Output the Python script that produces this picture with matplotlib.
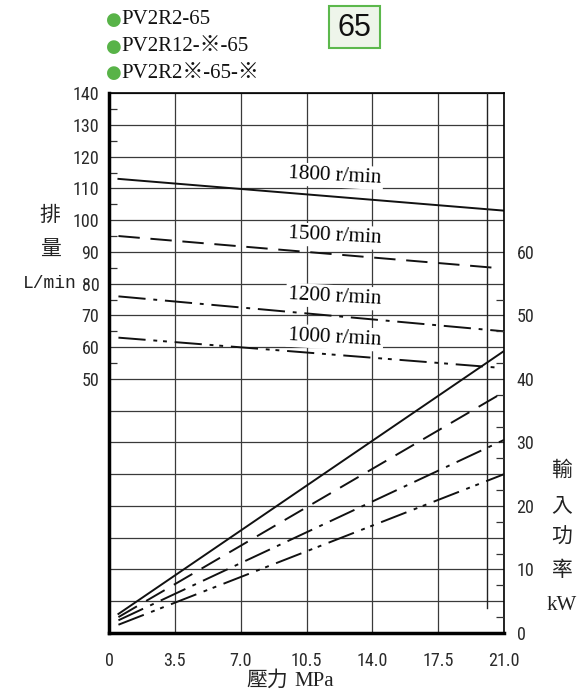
import matplotlib
matplotlib.use('Agg')
import matplotlib.pyplot as plt
import numpy as np
from matplotlib.patches import FancyBboxPatch

# Data
speeds = ['1800 r/min', '1500 r/min', '1200 r/min', '1000 r/min']
flow_x = [[0.5, 21.0], [0.5, 20.5], [0.5, 21.0], [0.5, 20.8]]
flow_y = [[113, 103], [95, 85], [76, 65], [63, 53.5]]
power_x = [[0.5, 21.0], [0.5, 20.8], [0.5, 21.0], [0.5, 21.0]]
power_y = [[3.0, 44.4], [2.5, 37.6], [2.0, 30.4], [1.3, 25.0]]
label_pos = [(12.0, 113.9), (12.0, 95.0), (12.0, 75.9), (12.0, 63.0)]

x_ticks = [0, 3.5, 7.0, 10.5, 14.0, 17.5, 21.0]
x_ticklabels = ['0', '3.5', '7.0', '10.5', '14.0', '17.5', '21.0']
left_grid = list(range(-30, 141, 10))
left_labels = [str(v) if v >= 50 else '' for v in left_grid]
right_ticks = [0, 10, 20, 30, 40, 50, 60]
models = ['PV2R2-65', 'PV2R12-※-65', 'PV2R2※-65-※']

styles = ['-', (0, (11, 5.5)), (0, (14, 4, 2, 4)), (0, (14, 4, 2, 3, 2, 4))]

tick_font = ['Liberation Sans Narrow', 'Roboto Condensed', 'DejaVu Sans Condensed', 'Liberation Sans']
serif = ['Liberation Serif', 'Noto Sans CJK JP', 'DejaVu Sans']
cjk = ['Noto Sans CJK TC', 'DejaVu Sans']

fig = plt.figure(figsize=(5.8, 6.93), dpi=100)
ax = fig.add_axes([0.188, 0.0866, 0.681, 0.779])
ax2 = ax.twinx()

ax.set_xlim(0, 21)
ax.set_ylim(-30, 140)
ax2.set_ylim(0, 85)

# grid
ax.set_xticks(x_ticks)
ax.set_xticklabels(x_ticklabels, fontfamily=tick_font, fontsize=13, color='#2a2a2a')
ax.set_yticks(left_grid)
ax.set_yticklabels(left_labels, fontfamily=tick_font, fontsize=13, color='#2a2a2a')
ax.grid(True, color='#3a3a3a', lw=0.9)
ax.tick_params(axis='y', length=0, pad=7)
ax.tick_params(axis='x', length=0, pad=14)
ax.set_yticks(np.arange(55, 140, 10), minor=True)
ax.tick_params(axis='y', which='minor', direction='in', length=6, width=0.9, color='#333')

ax2.set_yticks(right_ticks)
ax2.set_yticklabels([str(v) for v in right_ticks], fontfamily=tick_font, fontsize=13, color='#2a2a2a')
ax2.tick_params(axis='y', length=0, pad=9)
ax2.set_yticks(np.arange(2.5, 55, 5), minor=True)
ax2.tick_params(axis='y', which='minor', direction='in', length=6, width=0.9, color='#333')

for s in ['left', 'bottom']:
    ax.spines[s].set_linewidth(2.5)
for s in ['top', 'right']:
    ax.spines[s].set_linewidth(1.2)
for s in ax2.spines.values():
    s.set_visible(False)

# 20 MPa line
ax2.plot([20.1, 20.1], [4.0, 85], color='#222', lw=1.0)

for i in range(4):
    ax.plot(flow_x[i], flow_y[i], color='#111', lw=1.4, ls=styles[i])
    ax2.plot(power_x[i], power_y[i], color='#111', lw=1.4, ls=styles[i])
    ax.text(label_pos[i][0], label_pos[i][1], speeds[i], fontfamily='Liberation Serif',
            fontsize=15.2, ha='center', va='center', rotation=-3, zorder=5,
            bbox=dict(facecolor='white', edgecolor='none', pad=1.5))

# axis titles
for txt, y in zip(['排', '量'], [215, 250]):
    fig.text(50 / 580, 1 - y / 693, txt, fontfamily=cjk, fontsize=15, ha='center', va='center', color='#222')
fig.text(50 / 580, 1 - 283 / 693, 'L/min', fontfamily='Liberation Mono', fontsize=13,
         ha='center', va='center', color='#222')
for txt, y in zip(['輸', '入', '功', '率'], [470, 505, 537, 570]):
    fig.text(562 / 580, 1 - y / 693, txt, fontfamily=cjk, fontsize=15, ha='center', va='center', color='#222')
fig.text(562 / 580, 1 - 605 / 693, 'kW', fontfamily='Liberation Serif', fontsize=15,
         ha='center', va='center', color='#222')
fig.text(267 / 580, 1 - 680 / 693, '壓力', fontfamily=cjk, fontsize=15, ha='center', va='center', color='#222')
fig.text(314 / 580, 1 - 681 / 693, 'MPa', fontfamily='Liberation Serif', fontsize=15,
         ha='center', va='center', color='#222')

# header
for j, m in enumerate(models):
    yy = 1 - (20 + 26.5 * j) / 693
    fig.text(106 / 580, yy, '●', fontfamily='DejaVu Sans', fontsize=13, color='#58b348',
             ha='left', va='center')
    fig.text(121 / 580, yy, m, fontfamily=serif, fontsize=15, color='#111', ha='left', va='center')

box = FancyBboxPatch((329 / 580, 1 - 48 / 693), 51 / 580, 42 / 693, boxstyle='square,pad=0',
                     transform=fig.transFigure, facecolor='#eef5ea', edgecolor='#5cb84c', lw=1.5)
fig.patches.append(box)
fig.text(354.5 / 580, 1 - 28 / 693, '65', fontfamily='Liberation Sans', fontsize=22,
         ha='center', va='center', color='#111')

fig.savefig('out.png', dpi=100)
